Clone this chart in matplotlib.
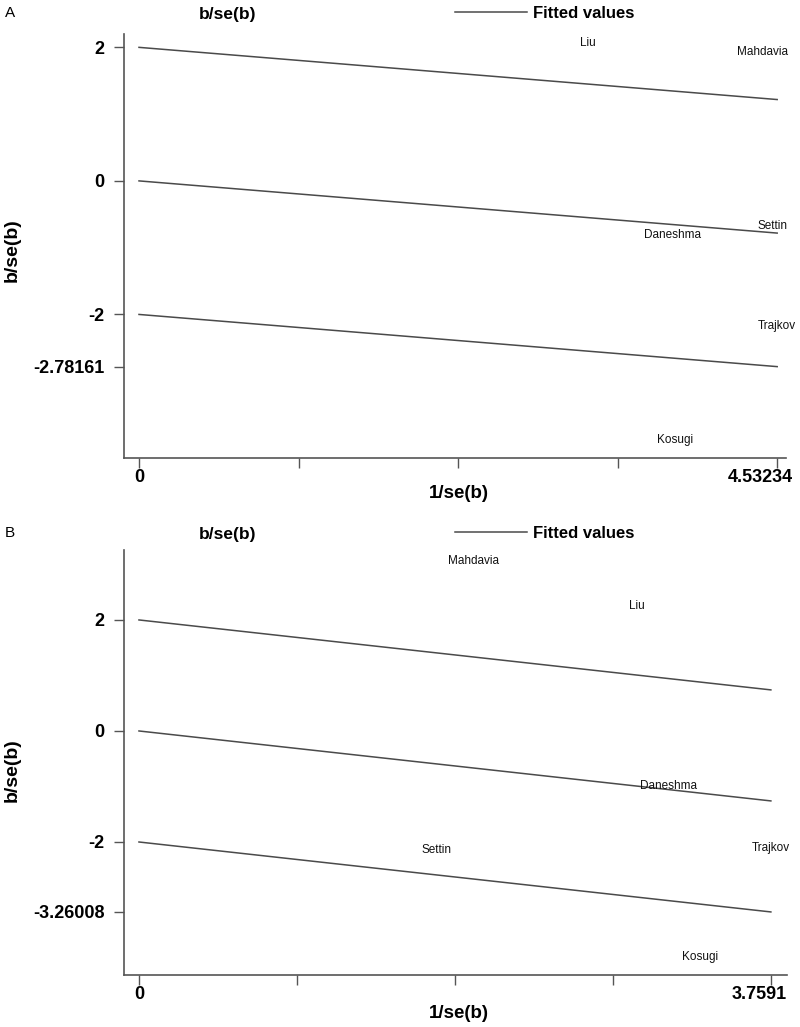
import numpy as np
import matplotlib.pyplot as plt
from matplotlib.transforms import ScaledTranslation

plt.rcParams['font.family'] = ['Liberation Sans', 'DejaVu Sans']

# panel A: Galbraith plot
names_a = ["Liu", "Mahdavia", "Settin", "Daneshma", "Trajkov", "Kosugi"]
inv_se_a = [3.19, 4.43, 4.50, 3.79, 4.53234, 3.81]
z_a = [2.07, 1.93, -0.67, -0.81, -2.17, -3.88]
xmax_a = 4.53234
low_end_a = -2.78161

# panel B
names_b = ["Mahdavia", "Liu", "Daneshma", "Settin", "Trajkov", "Kosugi"]
inv_se_b = [1.99, 2.96, 3.15, 1.77, 3.7591, 3.34]
z_b = [3.06, 2.25, -0.99, -2.14, -2.11, -4.07]
xmax_b = 3.7591
low_end_b = -3.26008

offsets = [2, 0, -2]

W, H = 800, 1027
fig = plt.figure(figsize=(W / 100, H / 100), dpi=100)


def draw_panel(box, names, xs, ys, xmax, low_end, xlim, ylim, shift_px, top_px, letter):
    ax = fig.add_axes(box)
    slope = (low_end + 2) / xmax
    xx = np.array([0, xmax])
    for i, c in enumerate(offsets):
        ax.plot(xx, c + slope * xx, color="#4a4a4a", lw=1.1,
                label="Fitted values" if i == 0 else None)
    for n, x, y in zip(names, xs, ys):
        ax.text(x, y, n, ha="center", va="center", fontsize=8.5, color="#111")

    ax.set_xlim(xlim)
    ax.set_ylim(ylim)
    for s in ["top", "right"]:
        ax.spines[s].set_visible(False)
    for s in ["left", "bottom"]:
        ax.spines[s].set_color("#555555")
        ax.spines[s].set_linewidth(1.2)

    ax.set_yticks([2, 0, -2, low_end])
    ax.set_yticklabels(["2", "0", "-2", f"{low_end:g}"])
    ax.set_xticks(np.linspace(0, xmax, 5))
    ax.set_xticklabels(["0", "", "", "", f"{xmax:g}"])
    ax.tick_params(axis="y", direction="out", length=7, width=1, color="#555555",
                   labelsize=13, pad=7)
    ax.tick_params(axis="x", direction="out", length=7, width=1, color="#555555",
                   labelsize=13, pad=1)
    for t in ax.get_yticklabels() + ax.get_xticklabels():
        t.set_fontweight("bold")
    last = ax.get_xticklabels()[-1]
    last.set_transform(last.get_transform() + ScaledTranslation(shift_px / 100, 0, fig.dpi_scale_trans))

    # titles and labels
    fig.text(228 / W, 1 - (top_px + 2) / H, "b/se(b)", ha="center", va="center",
             fontsize=12.5, fontweight="bold")
    fig.text(12 / W, 1 - (top_px + 237) / H, "b/se(b)", ha="center", va="center",
             rotation=90, fontsize=14, fontweight="bold")
    fig.text(459 / W, 1 - (top_px + 480) / H, "1/se(b)", ha="center", va="center",
             fontsize=13.5, fontweight="bold")
    fig.text(5 / W, 1 - top_px / H, letter, ha="left", va="center", fontsize=11)
    ax.legend(loc="center left", bbox_to_anchor=(455 / W, 1 - top_px / H),
              bbox_transform=fig.transFigure, frameon=False, handlelength=4.3,
              handletextpad=0.4, borderpad=0, borderaxespad=0,
              prop={"size": 12, "weight": "bold"})
    return ax


draw_panel([124 / W, 1 - 458 / H, 662 / W, 424 / H], names_a, inv_se_a, z_a,
           xmax_a, low_end_a, (-0.1065, 4.595), (-4.15, 2.20), -17, 13, "A")
draw_panel([124 / W, 1 - 975 / H, 663 / W, 425 / H], names_b, inv_se_b, z_b,
           xmax_b, low_end_b, (-0.089, 3.855), (-4.396, 3.26), -12, 533, "B")

fig.savefig("out.png", dpi=100, facecolor="white")
